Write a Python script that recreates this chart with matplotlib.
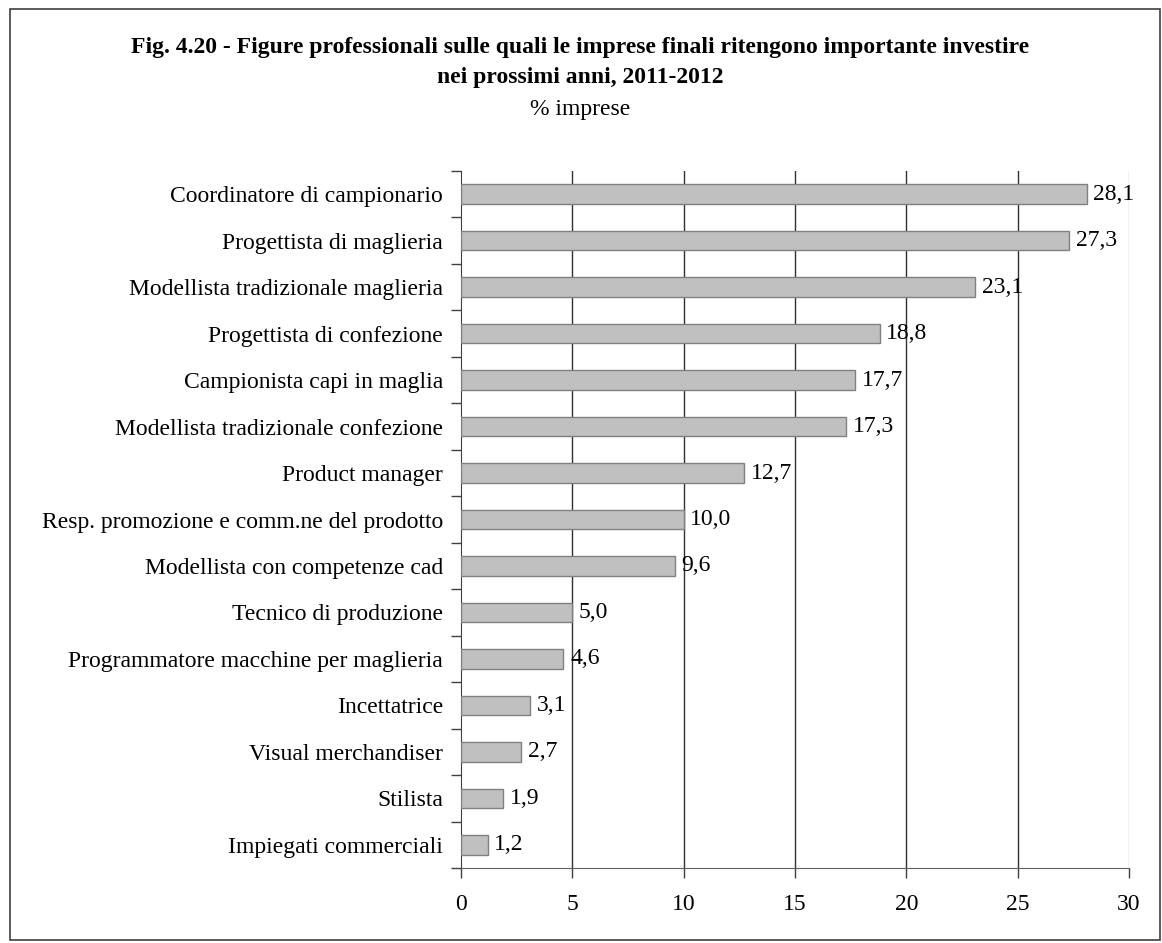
import matplotlib.pyplot as plt
from matplotlib.patches import Rectangle

# data, top to bottom as in the chart
categories = [
    "Coordinatore di campionario",
    "Progettista di maglieria",
    "Modellista tradizionale maglieria",
    "Progettista di confezione",
    "Campionista capi in maglia",
    "Modellista tradizionale confezione",
    "Product manager",
    "Resp. promozione e comm.ne del prodotto",
    "Modellista con competenze cad",
    "Tecnico di produzione",
    "Programmatore macchine per maglieria",
    "Incettatrice",
    "Visual merchandiser",
    "Stilista",
    "Impiegati commerciali",
]
values = [28.1, 27.3, 23.1, 18.8, 17.7, 17.3, 12.7, 10.0, 9.6, 5.0, 4.6, 3.1, 2.7, 1.9, 1.2]
xticks = [0, 5, 10, 15, 20, 25, 30]

plt.rcParams['font.family'] = ['Liberation Serif', 'DejaVu Serif']
FS = 17

fig = plt.figure(figsize=(11.62, 9.43), dpi=100)
W, H = 1162, 943
ax = fig.add_axes([461 / W, 1 - 868 / H, (1129 - 461) / W, (868 - 171) / H])

n = len(categories)
ypos = list(range(n))
ax.barh(ypos, values, height=0.42, color='#c0c0c0', edgecolor='#808080', linewidth=1, zorder=3)
ax.set_ylim(n - 0.5, -0.5)
ax.set_xlim(0, 30)

for y, v in zip(ypos, values):
    ax.text(v + 0.3, y, f"{v:.1f}".replace('.', ','), va='center', ha='left', fontsize=FS, zorder=4)

# y labels centred on bars, tick marks on category boundaries
ax.set_yticks(ypos)
ax.set_yticklabels(categories, fontsize=FS)
ax.tick_params(axis='y', which='major', length=0, pad=13)
ax.set_yticks([i - 0.5 for i in range(n + 1)], minor=True)
ax.tick_params(axis='y', which='minor', length=7, width=1, direction='out', color='#404040')

ax.set_xticks(xticks)
ax.set_xticklabels([str(t) for t in xticks], fontsize=FS)
ax.tick_params(axis='x', length=7, width=1, direction='out', color='#404040', pad=12)

# vertical gridlines, the last one lighter
for t in xticks[1:-1]:
    ax.axvline(t, color='#303030', linewidth=1, zorder=0)
ax.axvline(xticks[-1], color='#c0c0c0', linewidth=1, zorder=0)

ax.spines['top'].set_visible(False)
ax.spines['right'].set_visible(False)
ax.spines['left'].set_color('#404040')
ax.spines['bottom'].set_color('#606060')

fig.text(580 / W, 1 - 48 / H,
         "Fig. 4.20 - Figure professionali sulle quali le imprese finali ritengono importante investire",
         ha='center', va='center', fontsize=FS, fontweight='bold')
fig.text(580 / W, 1 - 77 / H, "nei prossimi anni, 2011-2012",
         ha='center', va='center', fontsize=FS, fontweight='bold')
fig.text(580 / W, 1 - 110 / H, "% imprese", ha='center', va='center', fontsize=FS)

# outer frame
fig.patches.append(Rectangle((10 / W, 1 - 940 / H), 1150 / W, 931 / H, transform=fig.transFigure,
                             fill=False, edgecolor='#404040', linewidth=1.2))

fig.savefig('out.png', dpi=100)
